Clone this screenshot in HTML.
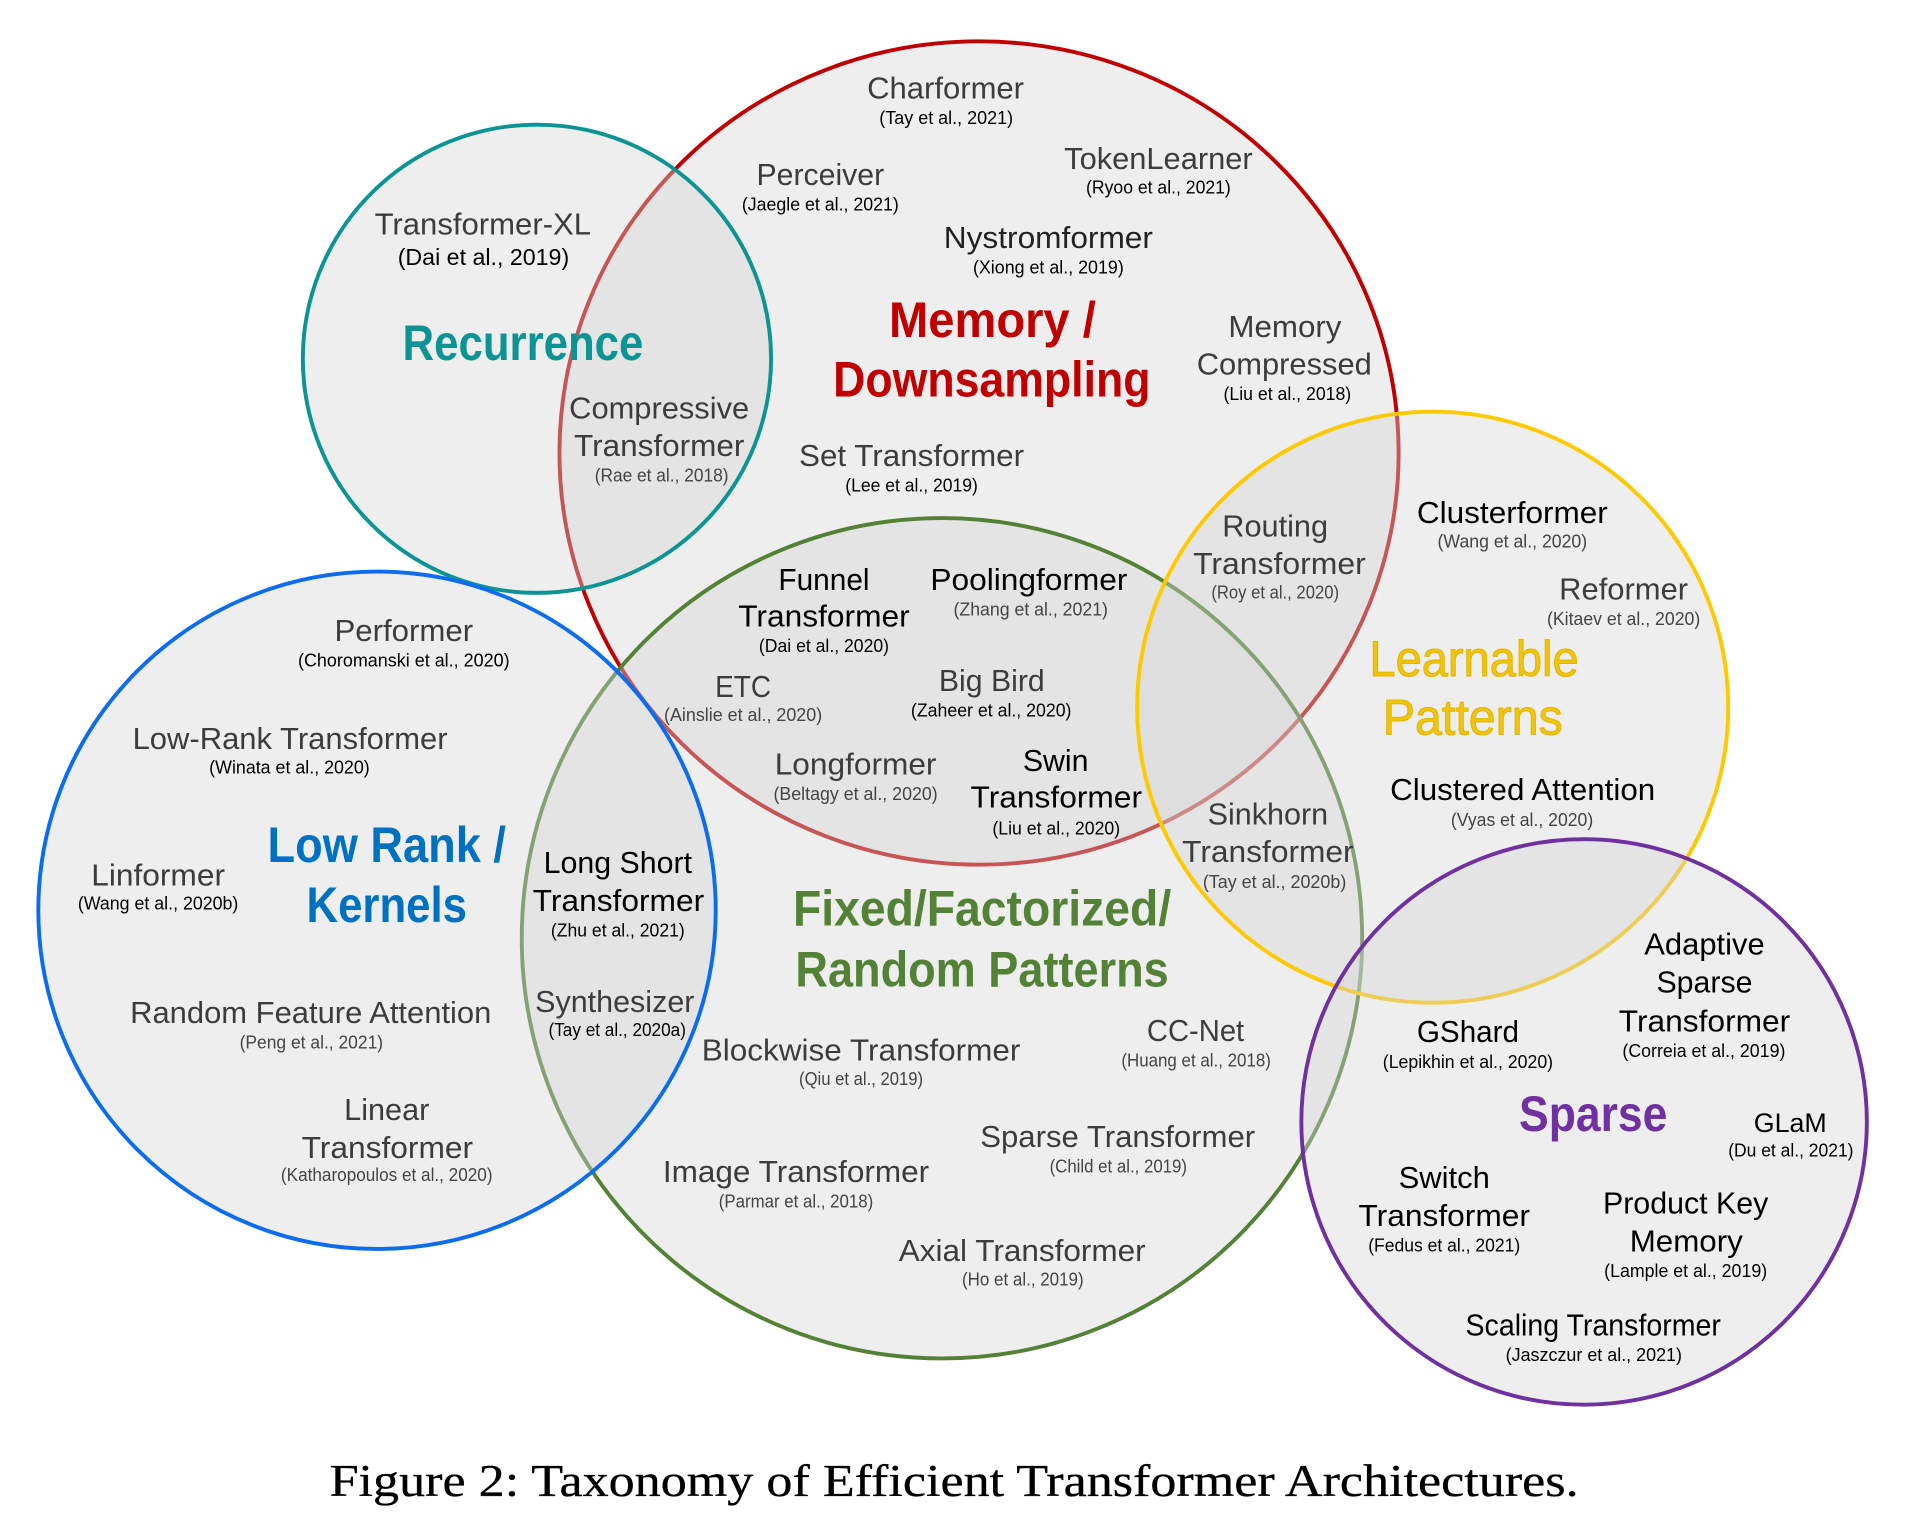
<!DOCTYPE html>
<html><head><meta charset="utf-8"><style>
html,body{margin:0;padding:0;background:#fff}
svg{display:block}
text{font-family:"Liberation Sans",sans-serif;white-space:pre}
.n{font-size:25px;fill:#3c3c3c}
.k{font-size:25px;fill:#000}
.s{font-size:15px;fill:#000}
.g{font-size:15px;fill:#444}
.h{font-size:41px;font-weight:bold}
.c{fill:#d4d4d4;fill-opacity:.4;stroke-width:3.2}
</style></head><body>
<svg xmlns="http://www.w3.org/2000/svg" width="1907" height="1527" viewBox="0 0 1568 1255.6" preserveAspectRatio="none">
<ellipse class="c" cx="805" cy="372.5" rx="345" ry="338.5" stroke="#c00000"/>
<circle class="c" cx="441.5" cy="295" r="192.5" stroke="#0c9494"/>
<circle class="c" cx="774.5" cy="771.5" r="345.5" stroke="#538135"/>
<circle class="c" cx="310" cy="748.5" r="278.5" stroke="#0b6cf0"/>
<circle class="c" cx="1178" cy="581.5" r="243" stroke="#ffc900"/>
<circle class="c" cx="1302.5" cy="922.5" r="232.5" stroke="#7030a0"/>

<g>
<text class="n" x="713" y="81" textLength="129" lengthAdjust="spacingAndGlyphs">Charformer</text>
<text class="s" x="723" y="102" textLength="110" lengthAdjust="spacingAndGlyphs">(Tay et al., 2021)</text>
<text class="n" x="622" y="152" textLength="105" lengthAdjust="spacingAndGlyphs">Perceiver</text>
<text class="s" x="610" y="173" textLength="129" lengthAdjust="spacingAndGlyphs">(Jaegle et al., 2021)</text>
<text class="n" x="875" y="139" textLength="155" lengthAdjust="spacingAndGlyphs">TokenLearner</text>
<text class="s" x="893" y="159" textLength="119" lengthAdjust="spacingAndGlyphs">(Ryoo et al., 2021)</text>
<text class="k" x="776" y="204" textLength="172" lengthAdjust="spacingAndGlyphs" style="fill:#222">Nystromformer</text>
<text class="s" x="800" y="225" textLength="124" lengthAdjust="spacingAndGlyphs">(Xiong et al., 2019)</text>
<text class="n" x="308" y="193" textLength="178" lengthAdjust="spacingAndGlyphs">Transformer-XL</text>
<text class="s" x="327" y="218" textLength="141" lengthAdjust="spacingAndGlyphs" style="font-size:19px">(Dai et al., 2019)</text>
<text class="h" x="331" y="296" textLength="198" lengthAdjust="spacingAndGlyphs" fill="#0c9494">Recurrence</text>
<text class="n" x="468" y="344" textLength="148" lengthAdjust="spacingAndGlyphs">Compressive</text>
<text class="n" x="472" y="375" textLength="140" lengthAdjust="spacingAndGlyphs">Transformer</text>
<text class="g" x="489" y="396" textLength="110" lengthAdjust="spacingAndGlyphs">(Rae et al., 2018)</text>
<text class="h" x="731" y="277" textLength="170" lengthAdjust="spacingAndGlyphs" fill="#c00000">Memory /</text>
<text class="h" x="685" y="326" textLength="261" lengthAdjust="spacingAndGlyphs" fill="#c00000">Downsampling</text>
<text class="n" x="1010" y="277" textLength="93" lengthAdjust="spacingAndGlyphs">Memory</text>
<text class="n" x="984" y="308" textLength="144" lengthAdjust="spacingAndGlyphs">Compressed</text>
<text class="s" x="1006" y="329" textLength="105" lengthAdjust="spacingAndGlyphs">(Liu et al., 2018)</text>
<text class="n" x="657" y="383" textLength="185" lengthAdjust="spacingAndGlyphs">Set Transformer</text>
<text class="s" x="695" y="404" textLength="109" lengthAdjust="spacingAndGlyphs">(Lee et al., 2019)</text>
<text class="n" x="1005" y="441" textLength="87" lengthAdjust="spacingAndGlyphs">Routing</text>
<text class="n" x="981" y="472" textLength="142" lengthAdjust="spacingAndGlyphs">Transformer</text>
<text class="g" x="996" y="492" textLength="105" lengthAdjust="spacingAndGlyphs">(Roy et al., 2020)</text>
<text class="k" x="1165" y="430" textLength="157" lengthAdjust="spacingAndGlyphs">Clusterformer</text>
<text class="g" x="1182" y="450" textLength="123" lengthAdjust="spacingAndGlyphs">(Wang et al., 2020)</text>
<text class="n" x="1282" y="493" textLength="106" lengthAdjust="spacingAndGlyphs">Reformer</text>
<text class="g" x="1272" y="514" textLength="126" lengthAdjust="spacingAndGlyphs">(Kitaev et al., 2020)</text>
<text class="h" x="1126" y="556" textLength="172" lengthAdjust="spacingAndGlyphs" fill="#f1c40a" style="font-weight:normal;stroke:#e0b400;stroke-width:.8">Learnable</text>
<text class="h" x="1137" y="604" textLength="148" lengthAdjust="spacingAndGlyphs" fill="#f1c40a" style="font-weight:normal;stroke:#e0b400;stroke-width:.8">Patterns</text>
<text class="k" x="1143" y="658" textLength="218" lengthAdjust="spacingAndGlyphs">Clustered Attention</text>
<text class="g" x="1193" y="679" textLength="117" lengthAdjust="spacingAndGlyphs">(Vyas et al., 2020)</text>
<text class="k" x="640" y="485" textLength="75" lengthAdjust="spacingAndGlyphs">Funnel</text>
<text class="k" x="607" y="515" textLength="141" lengthAdjust="spacingAndGlyphs">Transformer</text>
<text class="s" x="624" y="536" textLength="107" lengthAdjust="spacingAndGlyphs">(Dai et al., 2020)</text>
<text class="k" x="765" y="485" textLength="162" lengthAdjust="spacingAndGlyphs">Poolingformer</text>
<text class="g" x="784" y="506" textLength="127" lengthAdjust="spacingAndGlyphs">(Zhang et al., 2021)</text>
<text class="n" x="588" y="573" textLength="46" lengthAdjust="spacingAndGlyphs">ETC</text>
<text class="g" x="546" y="593" textLength="130" lengthAdjust="spacingAndGlyphs">(Ainslie et al., 2020)</text>
<text class="n" x="772" y="568" textLength="87" lengthAdjust="spacingAndGlyphs">Big Bird</text>
<text class="s" x="749" y="589" textLength="132" lengthAdjust="spacingAndGlyphs">(Zaheer et al., 2020)</text>
<text class="n" x="637" y="637" textLength="133" lengthAdjust="spacingAndGlyphs">Longformer</text>
<text class="g" x="636" y="658" textLength="135" lengthAdjust="spacingAndGlyphs">(Beltagy et al., 2020)</text>
<text class="k" x="841" y="634" textLength="54" lengthAdjust="spacingAndGlyphs">Swin</text>
<text class="k" x="798" y="664" textLength="141" lengthAdjust="spacingAndGlyphs">Transformer</text>
<text class="s" x="816" y="686" textLength="105" lengthAdjust="spacingAndGlyphs">(Liu et al., 2020)</text>
<text class="n" x="993" y="678" textLength="99" lengthAdjust="spacingAndGlyphs">Sinkhorn</text>
<text class="n" x="972" y="709" textLength="141" lengthAdjust="spacingAndGlyphs">Transformer</text>
<text class="g" x="989" y="730" textLength="118" lengthAdjust="spacingAndGlyphs">(Tay et al., 2020b)</text>
<text class="n" x="275" y="527" textLength="114" lengthAdjust="spacingAndGlyphs">Performer</text>
<text class="s" x="245" y="548" textLength="174" lengthAdjust="spacingAndGlyphs">(Choromanski et al., 2020)</text>
<text class="n" x="109" y="616" textLength="259" lengthAdjust="spacingAndGlyphs">Low-Rank Transformer</text>
<text class="s" x="172" y="636" textLength="132" lengthAdjust="spacingAndGlyphs">(Winata et al., 2020)</text>
<text class="n" x="75" y="728" textLength="110" lengthAdjust="spacingAndGlyphs">Linformer</text>
<text class="s" x="64" y="748" textLength="132" lengthAdjust="spacingAndGlyphs">(Wang et al., 2020b)</text>
<text class="h" x="220" y="709" textLength="196" lengthAdjust="spacingAndGlyphs" fill="#0070c0">Low Rank /</text>
<text class="h" x="252" y="758" textLength="132" lengthAdjust="spacingAndGlyphs" fill="#0070c0">Kernels</text>
<text class="k" x="447" y="718" textLength="122" lengthAdjust="spacingAndGlyphs">Long Short</text>
<text class="k" x="438" y="749" textLength="141" lengthAdjust="spacingAndGlyphs">Transformer</text>
<text class="s" x="453" y="770" textLength="110" lengthAdjust="spacingAndGlyphs">(Zhu et al., 2021)</text>
<text class="h" x="652" y="761" textLength="311" lengthAdjust="spacingAndGlyphs" fill="#538135">Fixed/Factorized/</text>
<text class="h" x="654" y="811" textLength="307" lengthAdjust="spacingAndGlyphs" fill="#538135">Random Patterns</text>
<text class="n" x="440" y="832" textLength="131" lengthAdjust="spacingAndGlyphs">Synthesizer</text>
<text class="s" x="451" y="852" textLength="113" lengthAdjust="spacingAndGlyphs">(Tay et al., 2020a)</text>
<text class="n" x="107" y="841" textLength="297" lengthAdjust="spacingAndGlyphs">Random Feature Attention</text>
<text class="g" x="197" y="862" textLength="118" lengthAdjust="spacingAndGlyphs">(Peng et al., 2021)</text>
<text class="n" x="283" y="921" textLength="70" lengthAdjust="spacingAndGlyphs">Linear</text>
<text class="n" x="248" y="952" textLength="141" lengthAdjust="spacingAndGlyphs">Transformer</text>
<text class="g" x="231" y="971" textLength="174" lengthAdjust="spacingAndGlyphs">(Katharopoulos et al., 2020)</text>
<text class="n" x="577" y="872" textLength="262" lengthAdjust="spacingAndGlyphs">Blockwise Transformer</text>
<text class="g" x="657" y="892" textLength="102" lengthAdjust="spacingAndGlyphs">(Qiu et al., 2019)</text>
<text class="n" x="943" y="856" textLength="80" lengthAdjust="spacingAndGlyphs">CC-Net</text>
<text class="g" x="922" y="877" textLength="123" lengthAdjust="spacingAndGlyphs">(Huang et al., 2018)</text>
<text class="n" x="806" y="943" textLength="226" lengthAdjust="spacingAndGlyphs">Sparse Transformer</text>
<text class="g" x="863" y="964" textLength="113" lengthAdjust="spacingAndGlyphs">(Child et al., 2019)</text>
<text class="n" x="545" y="972" textLength="219" lengthAdjust="spacingAndGlyphs">Image Transformer</text>
<text class="g" x="591" y="993" textLength="127" lengthAdjust="spacingAndGlyphs">(Parmar et al., 2018)</text>
<text class="n" x="739" y="1037" textLength="203" lengthAdjust="spacingAndGlyphs">Axial Transformer</text>
<text class="g" x="791" y="1057" textLength="100" lengthAdjust="spacingAndGlyphs">(Ho et al., 2019)</text>
<text class="k" x="1352" y="785" textLength="99" lengthAdjust="spacingAndGlyphs">Adaptive</text>
<text class="k" x="1362" y="816" textLength="79" lengthAdjust="spacingAndGlyphs">Sparse</text>
<text class="k" x="1331" y="848" textLength="141" lengthAdjust="spacingAndGlyphs">Transformer</text>
<text class="s" x="1334" y="869" textLength="134" lengthAdjust="spacingAndGlyphs">(Correia et al., 2019)</text>
<text class="k" x="1165" y="857" textLength="84" lengthAdjust="spacingAndGlyphs">GShard</text>
<text class="s" x="1137" y="878" textLength="140" lengthAdjust="spacingAndGlyphs">(Lepikhin et al., 2020)</text>
<text class="h" x="1249" y="930" textLength="122" lengthAdjust="spacingAndGlyphs" fill="#7030a0">Sparse</text>
<text class="k" x="1442" y="931" textLength="60" lengthAdjust="spacingAndGlyphs" style="font-size:22px">GLaM</text>
<text class="s" x="1421" y="951" textLength="103" lengthAdjust="spacingAndGlyphs">(Du et al., 2021)</text>
<text class="k" x="1150" y="977" textLength="75" lengthAdjust="spacingAndGlyphs">Switch</text>
<text class="k" x="1117" y="1008" textLength="141" lengthAdjust="spacingAndGlyphs">Transformer</text>
<text class="s" x="1125" y="1029" textLength="125" lengthAdjust="spacingAndGlyphs">(Fedus et al., 2021)</text>
<text class="k" x="1318" y="998" textLength="136" lengthAdjust="spacingAndGlyphs">Product Key</text>
<text class="k" x="1340" y="1029" textLength="93" lengthAdjust="spacingAndGlyphs">Memory</text>
<text class="s" x="1319" y="1050" textLength="134" lengthAdjust="spacingAndGlyphs">(Lample et al., 2019)</text>
<text class="k" x="1205" y="1098" textLength="210" lengthAdjust="spacingAndGlyphs">Scaling Transformer</text>
<text class="s" x="1238" y="1119" textLength="145" lengthAdjust="spacingAndGlyphs">(Jaszczur et al., 2021)</text>
</g>
<text x="271" y="1230" textLength="1027" lengthAdjust="spacingAndGlyphs" style="font-family:'Liberation Serif',serif;font-size:37px;fill:#000;stroke:#000;stroke-width:.25">Figure 2: Taxonomy of Efficient Transformer Architectures.</text>
</svg>
</body></html>
